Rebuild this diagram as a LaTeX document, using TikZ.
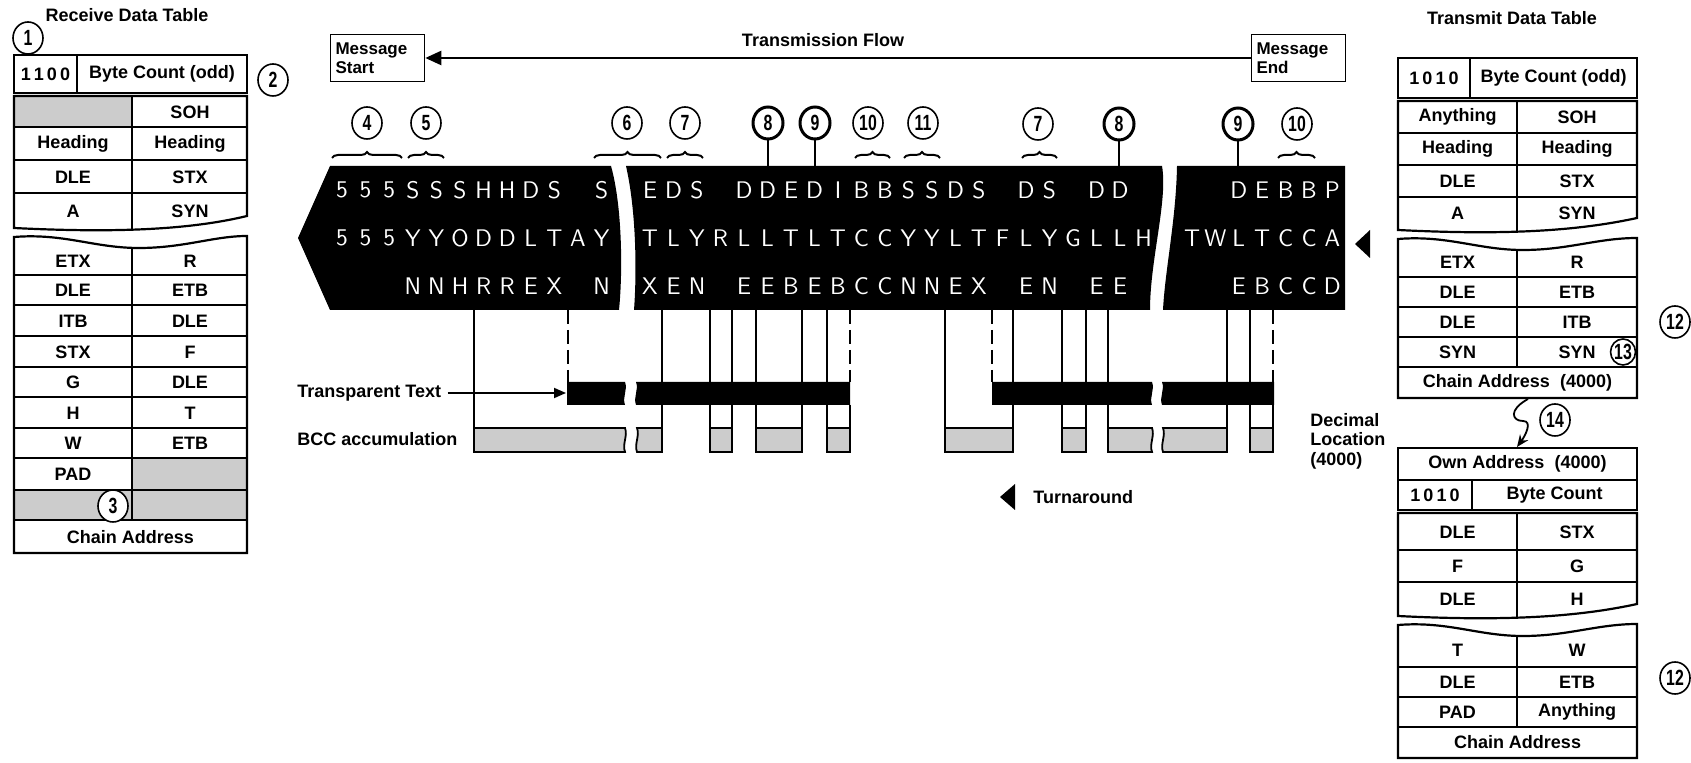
\documentclass[tikz,border=0pt]{standalone}
\usepackage{fontspec}
\setmainfont{Liberation Sans}
\usepackage{graphicx}
\usetikzlibrary{arrows.meta,decorations.pathreplacing,shapes.geometric}

% table parts with a torn edge
\newcommand{\upperpart}[4]{(#1,#3) -- (#2,#3) -- (#2,#4-12) .. controls (#1+175,#4+2) and (#1+100,#4+5) .. (#1,#4) -- cycle}
\newcommand{\lowerpart}[4]{(#1,#3+9) .. controls (#1+50,#3+5) and (#1+80,#3+20) .. (#1+125,#3+20) .. controls (#1+170,#3+20) and (#1+200,#3+8) .. (#2,#3+8) -- (#2,#4) -- (#1,#4) -- cycle}
\newcommand{\cnum}[1]{\scalebox{0.72}[1]{#1}}

\begin{document}
\begin{tikzpicture}[
    x=0.5pt, y=-0.5pt,
    tbl/.style={draw, line width=1.1pt},
    stip/.style={fill=black!20},
    cell/.style={inner sep=0pt, font=\fontsize{9}{10}\selectfont\bfseries},
    lbl/.style={inner sep=0pt, font=\fontsize{9}{10}\selectfont\bfseries},
    num/.style={
        ellipse,
        draw,
        fill=white,
        line width=0.8pt,
        minimum width=15pt,
        minimum height=16pt,
        inner sep=0pt,
        font=\fontsize{11}{11}\selectfont\bfseries
    },
    numb/.style={num, line width=1.5pt},
    brc/.style={decorate, decoration={brace, amplitude=3pt}, line width=1pt},
    bandtxt/.style={text=white, inner sep=0pt, font=\fontsize{12}{12}\selectfont\sffamily},
    tick/.style={line width=0.7pt},
    dtick/.style={tick, dash pattern=on 7pt off 3pt},
    bccbar/.style={fill=black!20, draw, line width=0.9pt},
    mbox/.style={
        draw,
        line width=0.8pt,
        align=left,
        text width=42pt,
        minimum height=23.5pt,
        inner xsep=2.5pt,
        font=\fontsize{8.5}{9.5}\selectfont\bfseries
    }
]
\useasboundingbox (0,0) rectangle (1691,763);

% ---- receive data table
\node[lbl] (rcvtitle) at (127,15) {Receive Data Table};
\fill[stip] (14,96) rectangle (132,127);
\fill[stip] (132,458) rectangle (247,490);
\fill[stip] (14,490) rectangle (247,520);
\draw[tbl] (14,55) rectangle (247,93);
\draw[tbl] (77,55) -- (77,93);
\draw[tbl] \upperpart{14}{247}{96}{228};
\begin{scope}
  \clip \upperpart{14}{247}{96}{228};
  \draw[tbl] (132,96) -- (132,240);
\end{scope}
\foreach \y in {127,160,193} \draw[tbl] (14,\y) -- (247,\y);
\draw[tbl] \lowerpart{14}{247}{228}{553};
\begin{scope}
  \clip \lowerpart{14}{247}{228}{553};
  \draw[tbl] (132,225) -- (132,520);
\end{scope}
\foreach \y in {275,305,336,367,397,428,458,490,520} \draw[tbl] (14,\y) -- (247,\y);

\node[cell] (rc1a) at (45.5,74) {1\,1\,0\,0};
\node[cell] (rc1b) at (162,74) {Byte Count (odd)};
\foreach \y/\a/\b [count=\i] in {112/{}/SOH, 144/Heading/Heading, 177/DLE/STX, 211/A/SYN,
    261/ETX/R, 290/DLE/ETB, 321/ITB/DLE, 352/STX/F, 382/G/DLE, 413/H/T, 443/W/ETB, 474/PAD/{}} {
  \node[cell] (rl\i) at (73,\y) {\a};
  \node[cell] (rr\i) at (190,\y) {\b};
}
\node[cell] (rchain) at (130.5,537) {Chain Address};

\node[num] (c1) at (28,38) {\cnum{1}};
\node[num] (c2) at (273,80) {\cnum{2}};
\node[num] (c3) at (113,506) {\cnum{3}};

% ---- transmission flow
\node[mbox] (mstart) at (377.5,58) {Message\\Start};
\node[mbox] (mend) at (1298.5,58) {Message\\End};
\node[lbl] (flow) at (823,40) {Transmission Flow};
\draw[line width=1.2pt, -{Triangle[length=8pt,width=7pt]}] (mend.west) -- (mstart.east);

% ---- message band
\coordinate (bandtop) at (0,166);
\fill (298,238) -- (330,166) -- (611,166) .. controls (622,205) and (623,270) .. (619,310) -- (330,310) -- cycle;
\fill (626,166) .. controls (636,210) and (637,270) .. (634,310) -- (1150,310) .. controls (1150,260) and (1168,200) .. (1162,166) -- cycle;
\fill (1177,166) .. controls (1176,220) and (1165,270) .. (1163,310) -- (1345,310) -- (1345,166) -- cycle;

\foreach \ch [count=\k from 0] in {5,5,5,S,S,S,H,H,D,S,{},S}
  \node[bandtxt] (la\k) at (342+23.6*\k,190) {\ch};
\foreach \ch [count=\k from 0] in {5,5,5,Y,Y,O,D,D,L,T,A,Y}
  \node[bandtxt] (lb\k) at (342+23.6*\k,238) {\ch};
\foreach \ch [count=\k from 0] in {{},{},{},N,N,H,R,R,E,X,{},N}
  \node[bandtxt] (lc\k) at (342+23.6*\k,286) {\ch};

\foreach \ch [count=\k from 0] in {E,D,S,{},D,D,E,D,I,B,B,S,S,D,S,{},D,S,{},D,D,{}}
  \node[bandtxt] (ma\k) at (650+23.5*\k,190) {\ch};
\foreach \ch [count=\k from 0] in {T,L,Y,R,L,L,T,L,T,C,C,Y,Y,L,T,F,L,Y,G,L,L,H}
  \node[bandtxt] (mb\k) at (650+23.5*\k,238) {\ch};
\foreach \ch [count=\k from 0] in {X,E,N,{},E,E,B,E,B,C,C,N,N,E,X,{},E,N,{},E,E,{}}
  \node[bandtxt] (mc\k) at (650+23.5*\k,286) {\ch};

\foreach \ch [count=\k from 0] in {{},{},D,E,B,B,P}
  \node[bandtxt] (ra\k) at (1192+23.4*\k,190) {\ch};
\foreach \ch [count=\k from 0] in {T,W,L,T,C,C,A}
  \node[bandtxt] (rb\k) at (1192+23.4*\k,238) {\ch};
\foreach \ch [count=\k from 0] in {{},{},E,B,C,C,D}
  \node[bandtxt] (rc\k) at (1192+23.4*\k,286) {\ch};

\fill (1355,244) -- (1370,230) -- (1370,258) -- cycle;

% ---- callouts over the band
\node[num] (c4) at (367,123) {\cnum{4}};
\node[num] (c5) at (426,123) {\cnum{5}};
\node[num] (c6) at (627,123) {\cnum{6}};
\node[num] (c7) at (685,123) {\cnum{7}};
\node[numb] (c8) at (768,123) {\cnum{8}};
\node[numb] (c9) at (815,123) {\cnum{9}};
\node[num] (c10) at (868,123) {\cnum{10}};
\node[num] (c11) at (923,123) {\cnum{11}};
\node[num] (c7b) at (1038,124) {\cnum{7}};
\node[numb] (c8b) at (1119,124) {\cnum{8}};
\node[numb] (c9b) at (1238,124) {\cnum{9}};
\node[num] (c10b) at (1297,124) {\cnum{10}};

\foreach \a/\b in {332/402, 408/444, 594/661, 667/703, 855/890, 904/940, 1022/1057, 1278/1315}
  \draw[brc] (\a,158) -- (\b,158);
\foreach \n in {c8,c9,c8b,c9b}
  \draw[line width=0.9pt] (\n.south) -- (\n.south |- bandtop);

% ---- lines down to the bars
\foreach \x in {474,662,710,732,756,802,827,945,1013,1062,1086,1108,1227,1250}
  \draw[tick] (\x,310) -- (\x,428);
\foreach \x in {568,850,992,1273}
  \draw[dtick] (\x,310) -- (\x,382);
\draw[tick] (850,405) -- (850,428);
\draw[tick] (1273,405) -- (1273,428);

% transparent text
\fill (567,382) -- (625,382) .. controls (628,390) and (622,397) .. (625,405) -- (567,405) -- cycle;
\fill (636,382) -- (850,382) -- (850,405) -- (636,405) .. controls (633,397) and (639,390) .. cycle;
\fill (992,382) -- (1152,382) .. controls (1155,390) and (1149,397) .. (1152,405) -- (992,405) -- cycle;
\fill (1162,382) -- (1274,382) -- (1274,405) -- (1162,405) .. controls (1159,397) and (1165,390) .. cycle;

% bcc accumulation
\draw[bccbar] (474,428) -- (625,428) .. controls (628,436) and (622,444) .. (625,452) -- (474,452) -- cycle;
\draw[bccbar] (637,428) -- (662,428) -- (662,452) -- (637,452) .. controls (634,444) and (640,436) .. cycle;
\draw[bccbar] (1108,428) -- (1152,428) .. controls (1155,436) and (1149,444) .. (1152,452) -- (1108,452) -- cycle;
\draw[bccbar] (1163,428) -- (1227,428) -- (1227,452) -- (1163,452) .. controls (1160,444) and (1166,436) .. cycle;
\foreach \a/\b in {710/732, 756/802, 827/850, 945/1013, 1062/1086, 1250/1273}
  \draw[bccbar] (\a,428) rectangle (\b,452);

\node[lbl, anchor=west] (tt) at (297,393) {Transparent Text};
\coordinate (tb1) at (566,393);
\draw[line width=0.9pt, -{Triangle[length=6pt,width=5pt]}] (tt.east) ++(6,0) -- (tb1);
\node[lbl, anchor=west] (bcc) at (297,439) {BCC accumulation};

\fill (1000,497) -- (1015,484) -- (1015,510) -- cycle;
\node[lbl, anchor=west] (turn) at (1033,497) {Turnaround};
\node[lbl, anchor=west, align=left, font=\fontsize{9}{9.8}\selectfont\bfseries] (decloc) at (1310,441) {Decimal\\Location\\(4000)};

% ---- transmit data table
\node[lbl] (xmttitle) at (1512,18) {Transmit Data Table};
\draw[tbl] (1398,58) rectangle (1637,98);
\draw[tbl] (1470,58) -- (1470,98);
\draw[tbl] \upperpart{1398}{1637}{101}{230};
\begin{scope}
  \clip \upperpart{1398}{1637}{101}{230};
  \draw[tbl] (1517,101) -- (1517,240);
\end{scope}
\foreach \y in {133,165,197} \draw[tbl] (1398,\y) -- (1637,\y);
\draw[tbl] \lowerpart{1398}{1637}{230}{398};
\begin{scope}
  \clip \lowerpart{1398}{1637}{230}{398};
  \draw[tbl] (1517,228) -- (1517,367);
\end{scope}
\foreach \y in {277,307,337,367} \draw[tbl] (1398,\y) -- (1637,\y);

\node[cell] (tc1a) at (1434,78) {1\,0\,1\,0};
\node[cell] (tc1b) at (1553.5,78) {Byte Count (odd)};
\foreach \y/\a/\b [count=\i] in {117/Anything/SOH, 149/Heading/Heading, 181/DLE/STX, 213/A/SYN,
    262/ETX/R, 292/DLE/ETB, 322/DLE/ITB, 352/SYN/SYN} {
  \node[cell] (tl\i) at (1457.5,\y) {\a};
  \node[cell] (tr\i) at (1577,\y) {\b};
}
\node[cell] (tchain) at (1517.5,383) {Chain Address\ \ (4000)};
\node[num, minimum width=12pt, minimum height=13pt] (c13) at (1623,352) {\cnum{13}};
\node[num] (c12) at (1675,322) {\cnum{12}};

% ---- chained buffer
\coordinate (sq1) at (1528,399);
\coordinate (sq2) at (1517,447);
\draw[line width=0.9pt, -{Stealth[length=6pt,width=5pt]}] (sq1) .. controls (1508,410) and (1512,421) .. (1523,421) .. controls (1533,421) and (1525,436) .. (sq2);
\node[num] (c14) at (1555,420) {\cnum{14}};

\draw[tbl] (1398,448) rectangle (1637,480);
\draw[tbl] (1398,480) rectangle (1637,510);
\draw[tbl] (1472,480) -- (1472,510);
\draw[tbl] \upperpart{1398}{1637}{513}{616};
\begin{scope}
  \clip \upperpart{1398}{1637}{513}{616};
  \draw[tbl] (1517,513) -- (1517,630);
\end{scope}
\foreach \y in {550,582} \draw[tbl] (1398,\y) -- (1637,\y);
\draw[tbl] \lowerpart{1398}{1637}{616}{758};
\begin{scope}
  \clip \lowerpart{1398}{1637}{616}{758};
  \draw[tbl] (1517,614) -- (1517,727);
\end{scope}
\foreach \y in {667,697,727} \draw[tbl] (1398,\y) -- (1637,\y);

\node[cell] (own) at (1517.5,464) {Own Address\ \ (4000)};
\node[cell] (oc1a) at (1435,495) {1\,0\,1\,0};
\node[cell] (oc1b) at (1554.5,495) {Byte Count};
\foreach \y/\a/\b [count=\i] in {532/DLE/STX, 566/F/G, 599/DLE/H, 650/T/W, 682/DLE/ETB, 712/PAD/Anything} {
  \node[cell] (ol\i) at (1457.5,\y) {\a};
  \node[cell] (or\i) at (1577,\y) {\b};
}
\node[cell] (ochain) at (1517.5,742) {Chain Address};
\node[num] (c12b) at (1675,678) {\cnum{12}};

\end{tikzpicture}
\end{document}
